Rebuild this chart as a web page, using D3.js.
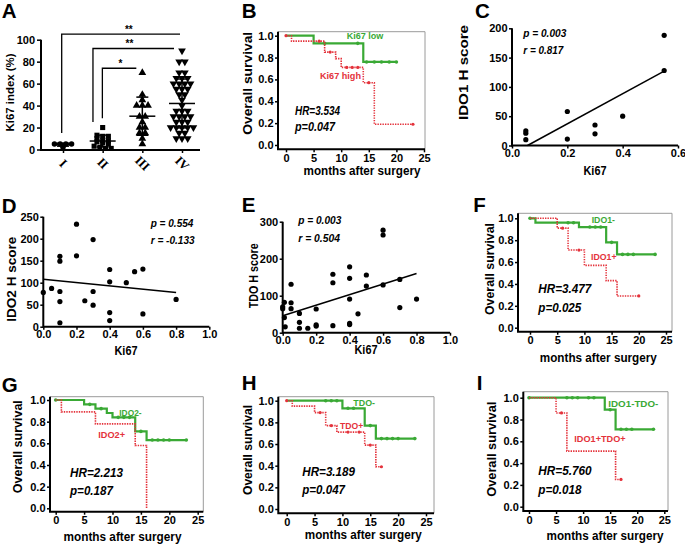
<!DOCTYPE html>
<html>
<head>
<meta charset="utf-8">
<script src="https://cdn.jsdelivr.net/npm/d3@7"></script>
<style>
body { margin: 0; background: #fff; }
svg { display: block; font-family: "Liberation Sans", Arial, sans-serif; font-weight: bold; }
</style>
</head>
<body>
<svg id="fig" width="685" height="544"></svg>
<script>
// A: Ki67 index per stage
const stages = ["I", "II", "III", "IV"];
const ki67StageI = [5, 5, 5, 5, 2];
const ki67StageII = [20, 13, 12, 12, 10, 8, 8, 7, 6, 5, 3, 2, 1, 1];
const ki67StageIII = [70, 50, 45, 40, 40, 40, 30, 30, 25, 20, 20, 15, 15, 10, 5];
const ki67StageIV = [90, 80, 80, 70, 70, 65, 65, 65, 60, 60, 60, 60, 55, 55, 55, 50, 50, 45, 40,
    35, 35, 35, 30, 30, 30, 30, 25, 25, 25, 20, 20, 20, 20, 20, 15, 15, 10, 10, 10];
const ki67Ticks = [0, 20, 40, 60, 80, 100];
const stageComparisons = [["I", "IV", "**"], ["II", "IV", "**"], ["II", "III", "*"]];
const bracketLevels = [105, 92, 74];
const bracketFeet = [15, 25, 28.4];

// Kaplan-Meier curves (time in months, survival, censored times)
const kmTicksX = [0, 5, 10, 15, 20, 25];
const kmTicksY = [0, 0.2, 0.4, 0.6, 0.8, 1.0];

const ki67LowTime = [0, 5, 14];
const ki67LowSurv = [1, 0.93, 0.76];
const ki67LowCensor = [7, 13, 14.6, 16, 17.3, 18.7, 20];
const ki67HighTime = [0, 1, 7, 9, 10, 14, 16];
const ki67HighSurv = [1, 0.95, 0.85, 0.79, 0.71, 0.57, 0.19];
const ki67HighCensor = [0, 6, 8, 11, 12, 13, 15, 23];

const ido1NegTime = [0, 1, 9, 14, 16];
const ido1NegSurv = [1, 0.96, 0.92, 0.78, 0.67];
const ido1NegCensor = [0, 7, 8, 11, 12, 13, 15, 17, 18, 19, 23];
const ido1PosTime = [0, 5, 7, 10, 14, 16];
const ido1PosSurv = [1, 0.91, 0.71, 0.57, 0.43, 0.29];
const ido1PosCensor = [6, 9, 20];

const ido2NegTime = [0, 5, 7, 9, 10, 14, 16];
const ido2NegSurv = [1, 0.96, 0.92, 0.88, 0.84, 0.71, 0.63];
const ido2NegCensor = [0, 6, 8, 11, 12, 13, 15, 17, 18, 19, 20, 23];
const ido2PosTime = [0, 1, 7, 14, 16];
const ido2PosSurv = [1, 0.89, 0.78, 0.58, 0];
const ido2PosCensor = [];

const tdoNegTime = [0, 10, 14, 16];
const tdoNegSurv = [1, 0.93, 0.77, 0.65];
const tdoNegCensor = [7, 8, 9, 11, 12, 15, 17, 18, 19, 20, 23];
const tdoPosTime = [0, 1, 5, 7, 9, 14, 16];
const tdoPosSurv = [1, 0.95, 0.89, 0.77, 0.71, 0.59, 0.39];
const tdoPosCensor = [0, 6, 8, 11, 13, 15, 17];

const dualNegTime = [0, 14, 16];
const dualNegSurv = [1, 0.89, 0.71];
const dualNegCensor = [0, 7, 8, 9, 11, 12, 15, 17, 18, 19, 23];
const dualPosTime = [0, 5, 7, 16];
const dualPosSurv = [1, 0.86, 0.51, 0.25];
const dualPosCensor = [6, 17];

// C: IDO1 H score vs Ki67
const ido1Ki67 = [0.05, 0.05, 0.05, 0.2, 0.2, 0.3, 0.3, 0.4, 0.55, 0.55];
const ido1Score = [25, 21, 10, 58, 11, 35, 20, 50, 188, 128];
const ido1Fit = [257, -14.4]; // slope, intercept

// D: IDO2 H score vs Ki67
const ido2Ki67 = [0.0, 0.05, 0.1, 0.1, 0.1, 0.1, 0.1, 0.2, 0.2, 0.25, 0.3, 0.3, 0.3,
    0.4, 0.4, 0.4, 0.4, 0.5, 0.55, 0.6, 0.6, 0.8];
const ido2Score = [78, 87, 160, 149, 80, 57, 9, 233, 161, 59, 198, 80, 49,
    130, 102, 32, 14, 100, 125, 131, 29, 62];
const ido2Fit = [-37.5, 108];

// E: TDO H score vs Ki67
const tdoKi67 = [0.01, 0.0, 0.0, 0.01, 0.015, 0.05, 0.05, 0.05, 0.1, 0.1, 0.1, 0.15, 0.2, 0.2, 0.2,
    0.3, 0.3, 0.3, 0.4, 0.4, 0.4, 0.4, 0.4, 0.45, 0.5, 0.5, 0.6, 0.6, 0.6, 0.7, 0.7, 0.8];
const tdoScore = [82, 70, 65, 41, 16, 131, 81, 65, 52, 28, 12, 12, 64, 21, 18,
    158, 135, 19, 178, 147, 91, 25, 22, 51, 156, 126, 277, 264, 129, 144, 68, 91];
const tdoFit = [142.5, 46];

const svg = d3.select("#fig");
const GREEN = "#3aa935";
const RED = "#e4323b";

// text helper; len squeezes to the measured width
function txt(x, y, s, size, o = {}) {
    const t = svg.append("text").attr("x", x).attr("y", y).attr("font-size", size).text(s);
    if (o.anchor) t.attr("text-anchor", o.anchor);
    if (o.fill) t.attr("fill", o.fill);
    if (o.italic) t.attr("font-style", "italic");
    if (o.len) t.attr("textLength", o.len).attr("lengthAdjust", "spacingAndGlyphs");
    if (o.rot) t.attr("dominant-baseline", "central").attr("transform", `rotate(${o.rot},${x},${y})`);
    return t;
}

function styleAxis(g) {
    g.attr("font-family", null).attr("font-size", 11);
    g.select(".domain").remove();
    g.selectAll(".tick line").attr("stroke-width", 1.5);
    g.selectAll(".tick text").attr("fill", "#000");
}

// panel letters
[["A", 1.7, 17.5], ["B", 241.7, 17.5], ["C", 475, 17.5], ["D", 1.7, 213.3], ["E", 241.7, 211.7],
 ["F", 473.3, 211.7], ["G", 1.7, 391.7], ["H", 241.7, 390], ["I", 476.7, 390]]
    .forEach(([l, x, y]) => txt(x, y, l, 20.5));

// ---------- A ----------
const aX = d3.scalePoint().domain(stages).range([63, 182]);
const aY = d3.scaleLinear().domain([0, 100]).range([149.5, 39.7]);

svg.append("path")
    .attr("d", `M41,${aY(100)}V150H200`)
    .attr("fill", "none").attr("stroke", "#000").attr("stroke-width", 2);
svg.append("g").attr("transform", "translate(41,0)")
    .call(d3.axisLeft(aY).tickValues(ki67Ticks).tickSize(4).tickPadding(2))
    .call(styleAxis);
svg.append("g").attr("transform", "translate(0,150)")
    .call(d3.axisBottom(aX).tickSize(3).tickFormat(""))
    .call(styleAxis);
stages.forEach(s => txt(aX(s), 163.5, s, 12.5, {anchor: "middle", rot: 45})
    .attr("font-family", "'Liberation Serif', serif"));
txt(10, 92.5, "Ki67 index (%)", 11.5, {anchor: "middle", rot: -90, len: 78});

function swarm(values, cx) {
    const sorted = values.slice().sort((a, b) => b - a);
    const rows = [];
    sorted.forEach(v => {
        const row = rows[rows.length - 1];
        if (row && row[0] - v < 3) row.push(v);
        else rows.push([v]);
    });
    const pts = [];
    rows.forEach(row => row.forEach((v, i) => pts.push({v: v, x: cx + (i - (row.length - 1) / 2) * 5.7})));
    return pts;
}

const stageValues = [ki67StageI, ki67StageII, ki67StageIII, ki67StageIV];
const stageShapes = [d3.symbolCircle, d3.symbolSquare, d3.symbolTriangle, d3.symbolTriangle];
stages.forEach((s, i) => {
    const cx = aX(s);
    svg.append("g").selectAll("path")
        .data(swarm(stageValues[i], cx))
        .join("path")
        .attr("transform", d => `translate(${d.x},${aY(d.v)})` + (i === 3 ? " rotate(180)" : ""))
        .attr("d", d3.symbol(stageShapes[i], i === 0 ? 24 : 26));

    const m = d3.mean(stageValues[i]);
    const sd = d3.deviation(stageValues[i]);
    const w = i === 0 ? 9 : 13;
    const bars = svg.append("g").attr("stroke", "#000").attr("stroke-width", 1.5);
    bars.append("line").attr("x1", cx - w).attr("x2", cx + w).attr("y1", aY(m)).attr("y2", aY(m));
    bars.append("line").attr("x1", cx).attr("x2", cx).attr("y1", aY(m - sd)).attr("y2", aY(m + sd));
    [m - sd, m + sd].forEach(v => bars.append("line")
        .attr("x1", cx - 6).attr("x2", cx + 6).attr("y1", aY(v)).attr("y2", aY(v)));
});

const bracketNudge = [[-1.3, -2], [-9.7, -8], [-0.3, -6]];
const starNudge = [8, -4, 1];
stageComparisons.forEach(([a, b, star], i) => {
    const x1 = aX(a) + bracketNudge[i][0];
    const x2 = aX(b) + bracketNudge[i][1];
    const yb = aY(bracketLevels[i]);
    svg.append("path")
        .attr("d", `M${x1},${aY(bracketFeet[i])}V${yb}H${x2}`)
        .attr("fill", "none").attr("stroke", "#000").attr("stroke-width", 1.3);
    txt((x1 + x2) / 2 + starNudge[i], yb - 1.5, star, 10, {anchor: "middle"});
});

// ---------- Kaplan-Meier panels ----------
function kmPanel(L, curves) {
    const x = d3.scaleLinear().domain([0, 25]).range([L.x0, L.x1]);
    const y = d3.scaleLinear().domain([0, 1]).range([L.y0, L.y1]);
    const g = svg.append("g");
    g.append("path")
        .attr("d", `M${L.left},${L.top}H${L.right}V${L.bottom}`)
        .attr("fill", "none").attr("stroke", "#9a9a9a").attr("stroke-width", 1);
    g.append("path")
        .attr("d", `M${L.left},${L.top}V${L.bottom}H${L.right}`)
        .attr("fill", "none").attr("stroke", "#000").attr("stroke-width", 2);
    g.append("g").attr("transform", `translate(${L.left},0)`)
        .call(d3.axisLeft(y).tickValues(kmTicksY).tickFormat(d3.format(".1f")).tickSize(3).tickPadding(1.5))
        .call(styleAxis);
    g.append("g").attr("transform", `translate(0,${L.bottom})`)
        .call(d3.axisBottom(x).tickValues(kmTicksX).tickSize(3).tickPadding(2))
        .call(styleAxis);

    const line = d3.line().x(d => x(d[0])).y(d => y(d[1])).curve(d3.curveStepAfter);
    curves.forEach(c => {
        const pts = c.time.map((t, i) => [t, c.surv[i]]);
        const end = Math.max(c.time[c.time.length - 1], ...c.censor);
        pts.push([end, c.surv[c.surv.length - 1]]);
        g.append("path").datum(pts)
            .attr("d", line)
            .attr("fill", "none")
            .attr("stroke", c.color)
            .attr("stroke-width", c.dotted ? 1.6 : 2.2)
            .attr("stroke-dasharray", c.dotted ? "1.4,1.1" : null);
        g.append("g").selectAll("circle")
            .data(c.censor)
            .join("circle")
            .attr("cx", t => x(t))
            .attr("cy", t => y(c.surv[d3.bisectRight(c.time, t) - 1]))
            .attr("r", c.dotted ? 1.6 : 1.8)
            .attr("fill", c.color);
    });
}

function kmTexts(t) {
    txt(t.yl[0], t.yl[1], "Overall survival", 12.5, {anchor: "middle", rot: -90, len: t.yl[2]});
    txt(t.xl[0], t.xl[1], "months after surgery", 12, {anchor: "middle", len: t.xl[2]});
    txt(t.neg[0], t.neg[1], t.neg[3], 9.5, {fill: GREEN, len: t.neg[2]});
    txt(t.pos[0], t.pos[1], t.pos[3], 9.5, {fill: RED, len: t.pos[2]});
    txt(t.hr[0], t.hr[1], t.hr[3], 13, {italic: true, len: t.hr[2]});
    txt(t.p[0], t.p[1], t.p[3], 13, {italic: true, len: t.p[2]});
}

kmPanel({left: 278, top: 31.7, right: 425, bottom: 149.3, x0: 286, x1: 424, y0: 145, y1: 35.7}, [
    {time: ki67LowTime, surv: ki67LowSurv, censor: ki67LowCensor, color: GREEN},
    {time: ki67HighTime, surv: ki67HighSurv, censor: ki67HighCensor, color: RED, dotted: true}
]);
kmTexts({yl: [248.3, 83.3, 103], xl: [362, 174.5, 117],
    neg: [346.7, 39.3, 36.7, "Ki67 low"], pos: [320, 79.3, 41, "Ki67 high"],
    hr: [295, 115, 45, "HR=3.534"], p: [295, 131, 40, "p=0.047"]});

kmPanel({left: 518, top: 213.3, right: 672, bottom: 331.7, x0: 530, x1: 666, y0: 327.7, y1: 218.3}, [
    {time: ido1NegTime, surv: ido1NegSurv, censor: ido1NegCensor, color: GREEN},
    {time: ido1PosTime, surv: ido1PosSurv, censor: ido1PosCensor, color: RED, dotted: true}
]);
kmTexts({yl: [490, 269, 92], xl: [598.3, 362, 117],
    neg: [591.7, 223.3, 23.3, "IDO1-"], pos: [591, 260, 25.6, "IDO1+"],
    hr: [538.3, 293.3, 53, "HR=3.477"], p: [538.3, 312.3, 43, "p=0.025"]});

kmPanel({left: 50, top: 396.7, right: 203.3, bottom: 511.7, x0: 55.7, x1: 197.7, y0: 508.3, y1: 400}, [
    {time: ido2NegTime, surv: ido2NegSurv, censor: ido2NegCensor, color: GREEN},
    {time: ido2PosTime, surv: ido2PosSurv, censor: ido2PosCensor, color: RED, dotted: true}
]);
kmTexts({yl: [18.3, 446.7, 93], xl: [122.5, 540.5, 118],
    neg: [119.3, 416, 22.3, "IDO2-"], pos: [98.3, 438.3, 26.7, "IDO2+"],
    hr: [70, 476.7, 53, "HR=2.213"], p: [70, 495, 43, "p=0.187"]});

kmPanel({left: 278.3, top: 396.7, right: 434, bottom: 513.3, x0: 286.7, x1: 426, y0: 509, y1: 400.7}, [
    {time: tdoNegTime, surv: tdoNegSurv, censor: tdoNegCensor, color: GREEN},
    {time: tdoPosTime, surv: tdoPosSurv, censor: tdoPosCensor, color: RED, dotted: true}
]);
kmTexts({yl: [248.3, 450, 90], xl: [363.3, 539, 117],
    neg: [353.3, 406, 21.7, "TDO-"], pos: [340, 429, 23.3, "TDO+"],
    hr: [302.3, 475.7, 52.7, "HR=3.189"], p: [302.3, 494.3, 42.7, "p=0.047"]});

kmPanel({left: 523.3, top: 391.7, right: 668, bottom: 511, x0: 529, x1: 664.3, y0: 506.7, y1: 397.7}, [
    {time: dualNegTime, surv: dualNegSurv, censor: dualNegCensor, color: GREEN},
    {time: dualPosTime, surv: dualPosSurv, censor: dualPosCensor, color: RED, dotted: true}
]);
kmTexts({yl: [491.7, 449.2, 95], xl: [605, 540, 117],
    neg: [608.3, 406.7, 50, "IDO1-TDO-"], pos: [574.3, 442.3, 51.3, "IDO1+TDO+"],
    hr: [538.3, 475, 53.3, "HR=5.760"], p: [538.3, 494.3, 43.3, "p=0.018"]});

// ---------- scatter panels ----------
function scatterPanel(L, xs, ys, fit, xTicks, yTicks) {
    const x = d3.scaleLinear().domain(L.xDomain).range(L.xRange);
    const y = d3.scaleLinear().domain(L.yDomain).range(L.yRange);
    svg.append("path")
        .attr("d", `M${x(0)},${y(L.yDomain[1])}V${y(0)}H${x(L.xDomain[1])}`)
        .attr("fill", "none").attr("stroke", "#000").attr("stroke-width", 2);
    svg.append("g").attr("transform", `translate(${x(0)},0)`)
        .call(d3.axisLeft(y).tickValues(yTicks).tickSize(3).tickPadding(1.5))
        .call(styleAxis);
    svg.append("g").attr("transform", `translate(0,${y(0)})`)
        .call(d3.axisBottom(x).tickValues(xTicks).tickFormat(d3.format(".1f")).tickSize(3).tickPadding(1))
        .call(styleAxis);

    svg.append("g").selectAll("circle")
        .data(xs)
        .join("circle")
        .attr("cx", d => x(d))
        .attr("cy", (d, i) => y(ys[i]))
        .attr("r", 2.6)
        .attr("fill", "#000");

    let xa = d3.min(xs);
    const xb = d3.max(xs);
    if (fit[0] * xa + fit[1] < 0) xa = -fit[1] / fit[0];
    svg.append("line")
        .attr("x1", x(xa)).attr("y1", y(fit[0] * xa + fit[1]))
        .attr("x2", x(xb)).attr("y2", y(fit[0] * xb + fit[1]))
        .attr("stroke", "#000").attr("stroke-width", 1.5);
}

scatterPanel({xDomain: [0, 0.6], xRange: [512, 678], yDomain: [0, 200], yRange: [145.5, 28.3]},
    ido1Ki67, ido1Score, ido1Fit, [0, 0.2, 0.4, 0.6], [0, 50, 100, 150, 200]);
txt(463.5, 72.5, "IDO1 H score", 12, {anchor: "middle", rot: -90, len: 95});
txt(595, 175, "Ki67", 12.5, {anchor: "middle", len: 23});
txt(523.3, 37.3, "p = 0.003", 11, {italic: true, len: 43});
txt(523.3, 54, "r = 0.817", 11, {italic: true, len: 40});

scatterPanel({xDomain: [0, 1], xRange: [43.3, 209.3], yDomain: [0, 250], yRange: [326.7, 216.7]},
    ido2Ki67, ido2Score, ido2Fit, [0, 0.2, 0.4, 0.6, 0.8, 1.0], [0, 50, 100, 150, 200, 250]);
txt(12.5, 279.2, "IDO2 H score", 12, {anchor: "middle", rot: -90, len: 85});
txt(126, 355, "Ki67", 12.5, {anchor: "middle", len: 23});
txt(150.7, 226.7, "p = 0.554", 11, {italic: true, len: 42.7});
txt(150.7, 244.3, "r = -0.133", 11, {italic: true, len: 44});

scatterPanel({xDomain: [0, 1], xRange: [282.7, 450], yDomain: [0, 300], yRange: [332.7, 221.7]},
    tdoKi67, tdoScore, tdoFit, [0, 0.2, 0.4, 0.6, 0.8, 1.0], [0, 100, 200, 300]);
txt(254, 275.8, "TDO H score", 12, {anchor: "middle", rot: -90, len: 65});
txt(366, 354, "Ki67", 12, {anchor: "middle", len: 23});
txt(298.3, 224.3, "p = 0.003", 11, {italic: true, len: 43});
txt(298.3, 241.7, "r = 0.504", 11, {italic: true, len: 41.7});
</script>
</body>
</html>
